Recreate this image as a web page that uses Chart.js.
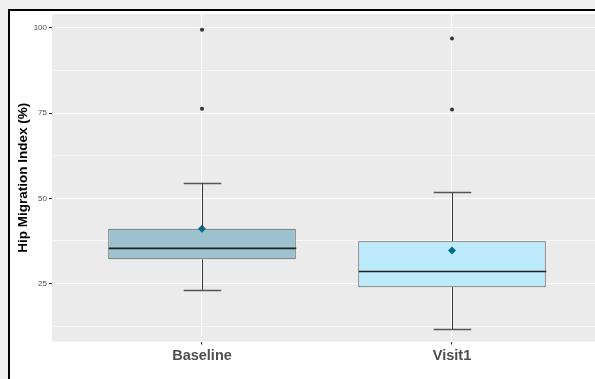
<!DOCTYPE html>
<html>
<head>
<meta charset="utf-8">
<script src="https://cdn.jsdelivr.net/npm/chart.js@4/dist/chart.umd.min.js"></script>
<style>
  html, body { margin: 0; padding: 0; background: #f0f0f0; width: 595px; height: 379px; overflow: hidden; }
  #frame { position: absolute; left: 8px; top: 9px; width: 620px; height: 420px; border: 2px solid #000; background: #fff; }
  #wrap { position: absolute; left: 0; top: 0; width: 606px; height: 379px; }
</style>
</head>
<body>
<div id="frame"></div>
<div id="wrap"><canvas id="c" width="606" height="379"></canvas></div>
<script>
const categories = ['Baseline', 'Visit1'];
const q1 = [32.1, 23.9];
const medians = [35.3, 28.5];
const q3 = [41.1, 37.4];
const whiskerLow = [23.0, 11.6];
const whiskerHigh = [54.6, 51.8];
const means = [41.1, 34.7];
const outliers = [[99.5, 76.3], [96.9, 76.1]];
const yTicks = [12.5, 25, 37.5, 50, 62.5, 75, 87.5, 100];
const yLabelled = [25, 50, 75, 100];
const boxColors = ['#9cc2cf', '#bdebfb'];

const boxPlugin = {
  id: 'boxExtras',
  afterDatasetsDraw(chart) {
    const ctx = chart.ctx, x = chart.scales.x, y = chart.scales.y;
    const unit = x.getPixelForValue(1) - x.getPixelForValue(0);
    ctx.save();
    categories.forEach((c, i) => {
      const cx = Math.round(x.getPixelForValue(i)) + 0.5;
      const capHalf = unit * 0.075;
      ctx.strokeStyle = '#3a3a3a';
      ctx.lineWidth = 1;
      ctx.beginPath();
      ctx.moveTo(cx, y.getPixelForValue(q3[i])); ctx.lineTo(cx, y.getPixelForValue(whiskerHigh[i]));
      ctx.moveTo(cx, y.getPixelForValue(q1[i])); ctx.lineTo(cx, y.getPixelForValue(whiskerLow[i]));
      ctx.stroke();
      ctx.strokeStyle = '#555';
      ctx.lineWidth = 1.3;
      ctx.beginPath();
      const yh = Math.round(y.getPixelForValue(whiskerHigh[i])) + 0.5;
      const yl = Math.round(y.getPixelForValue(whiskerLow[i])) + 0.5;
      ctx.moveTo(cx - capHalf, yh); ctx.lineTo(cx + capHalf, yh);
      ctx.moveTo(cx - capHalf, yl); ctx.lineTo(cx + capHalf, yl);
      ctx.stroke();
      const half = unit * 0.375;
      const ym = y.getPixelForValue(medians[i]);
      ctx.strokeStyle = '#222';
      ctx.lineWidth = 1.6;
      ctx.beginPath();
      ctx.moveTo(cx - half, ym); ctx.lineTo(cx + half, ym);
      ctx.stroke();
    });
    ctx.restore();
  }
};

const boxData = categories.map((c, i) => ({ x: i, y: [q1[i], q3[i]] }));
const meanData = categories.map((c, i) => ({ x: i, y: means[i] }));
const outData = [];
outliers.forEach((arr, i) => arr.forEach(v => outData.push({ x: i, y: v })));

new Chart(document.getElementById('c'), {
  data: {
    datasets: [
      {
        type: 'bar',
        data: boxData,
        backgroundColor: boxColors,
        borderColor: '#5a5a5a',
        borderWidth: 1,
        borderSkipped: false,
        barPercentage: 0.75,
        categoryPercentage: 1.0,
        order: 3
      },
      {
        type: 'scatter',
        data: meanData,
        pointStyle: 'rectRot',
        pointRadius: 4,
        backgroundColor: '#026d8f',
        borderColor: '#026d8f',
        borderWidth: 0,
        order: 1
      },
      {
        type: 'scatter',
        data: outData,
        pointStyle: 'circle',
        pointRadius: 2,
        backgroundColor: '#333333',
        borderWidth: 0,
        order: 2
      }
    ]
  },
  options: {
    responsive: false,
    animation: false,
    layout: { padding: { left: 0, right: 0, top: 14, bottom: 11 } },
    plugins: { legend: { display: false }, tooltip: { enabled: false } },
    scales: {
      x: {
        type: 'linear',
        min: -0.6,
        max: 1.6,
        offset: false,
        afterBuildTicks: s => { s.ticks = categories.map((c, i) => ({ value: i })); },
        ticks: {
          callback: v => categories[v],
          color: '#4d4d4d',
          font: { family: 'Liberation Sans, Arial', size: 14.5, weight: 'bold' },
          padding: 3,
          maxRotation: 0,
          autoSkip: false
        },
        grid: { offset: false, color: '#ffffff', lineWidth: 1.1, tickColor: '#333', tickLength: 3 },
        border: { display: false }
      },
      y: {
        type: 'linear',
        min: 7.94,
        max: 104.1,
        afterBuildTicks: s => { s.ticks = yTicks.map(v => ({ value: v })); },
        afterFit: s => { s.width = 52; },
        ticks: {
          callback: v => yLabelled.includes(v) ? String(v) : '',
          color: '#4d4d4d',
          font: { family: 'Liberation Sans, Arial', size: 8 },
          padding: 2
        },
        title: {
          display: true,
          text: 'Hip Migration Index (%)',
          color: '#000',
          font: { family: 'Liberation Sans, Arial', size: 13.5, weight: 'bold' },
          padding: { top: 15, bottom: 4 }
        },
        grid: {
          color: '#ffffff',
          lineWidth: ctx => yLabelled.includes(ctx.tick && ctx.tick.value) ? 1.1 : 0.6,
          tickColor: ctx => yLabelled.includes(ctx.tick && ctx.tick.value) ? '#333' : 'rgba(0,0,0,0)',
          tickLength: 3
        },
        border: { display: false }
      }
    }
  },
  plugins: [
    {
      id: 'panelBg',
      beforeDraw(chart) {
        const a = chart.chartArea, ctx = chart.ctx;
        ctx.save();
        ctx.fillStyle = '#ebebeb';
        ctx.fillRect(a.left, a.top, a.right - a.left, a.bottom - a.top);
        ctx.restore();
      }
    },
    boxPlugin
  ]
});
</script>
</body>
</html>
